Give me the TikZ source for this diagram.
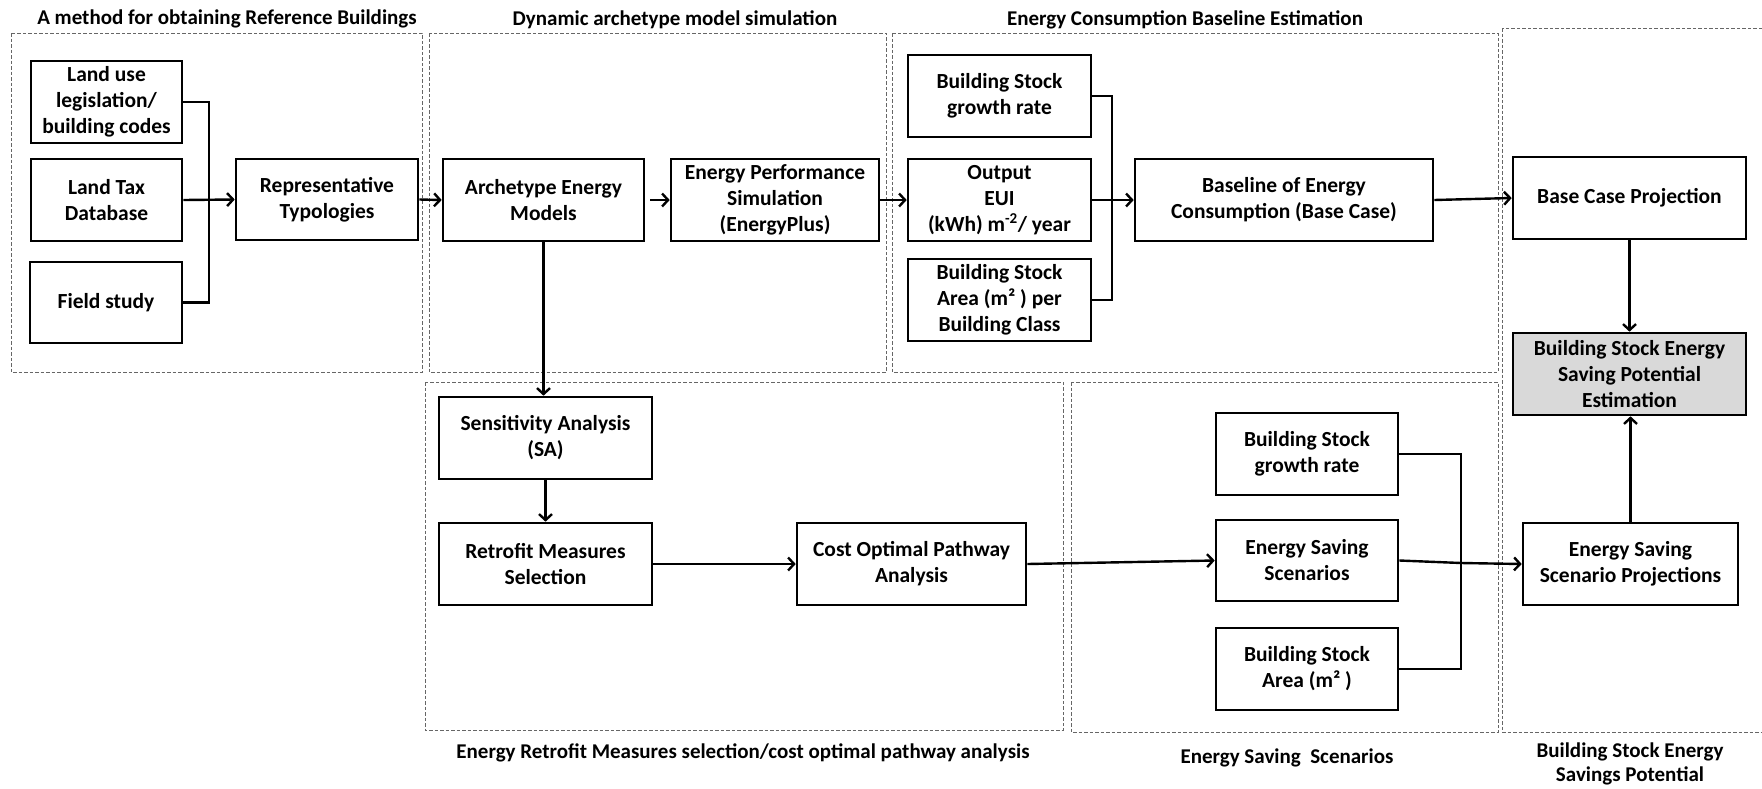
\documentclass[tikz,border=0pt]{standalone}
\usepackage{fontspec}
\setmainfont{Carlito}
\usetikzlibrary{arrows.meta}
\begin{document}
\begin{tikzpicture}[x=1pt,y=-1pt,
  box/.style={draw=black, line width=2.6pt, fill=white, align=center,
    inner sep=0pt, font=\bfseries\fontsize{21.5}{26}\selectfont},
  group/.style={draw=black!60, line width=0.9pt, dash pattern=on 3.5pt off 2pt},
  phasetitle/.style={align=center, inner sep=0pt, font=\bfseries\fontsize{21}{25}\selectfont},
  link/.style={line width=2.4pt},
  arr/.style={line width=2.4pt, -{Straight Barb[length=6pt,width=13pt,line width=2.4pt]}}]
\useasboundingbox (0,0) rectangle (1762,788);

% phase frames
\draw[group] (11,33) rectangle (422,372);
\draw[group] (429,33) rectangle (886,372);
\draw[group] (892,33) rectangle (1498,372);
\draw[group] (425,382) rectangle (1063,730);
\draw[group] (1071,382) rectangle (1498,732);
\draw[group] (1502,28) rectangle (1775,732);

% phase titles
\node[phasetitle] (t1) at (227,19) {A method for obtaining Reference Buildings};
\node[phasetitle] (t2) at (675,20) {Dynamic archetype model simulation};
\node[phasetitle] (t3) at (1185,20) {Energy Consumption Baseline Estimation};
\node[phasetitle] (t4) at (743,753) {Energy Retrofit Measures selection/cost optimal pathway analysis};
\node[phasetitle] (t5) at (1287,758) {Energy Saving\ \ Scenarios};
\node[phasetitle, font=\bfseries\fontsize{21}{24}\selectfont] (t6) at (1630,764) {Building Stock Energy\\Savings Potential};

% reference buildings
\node[box, minimum width=151pt, minimum height=82pt] (landuse) at (106.5,102) {Land use\\legislation/\\building codes};
\node[box, minimum width=151pt, minimum height=82pt] (landtax) at (106.5,200) {Land Tax\\Database};
\node[box, minimum width=152pt, minimum height=81pt] (field) at (106,302.5) {Field study};
\node[box, minimum width=182pt, minimum height=81pt] (rep) at (327,199.5) {Representative\\Typologies};

% archetype simulation
\node[box, minimum width=201pt, minimum height=82pt] (arch) at (543.5,200) {Archetype Energy\\Models};
\node[box, minimum width=208pt, minimum height=82pt] (eps) at (775,200) {Energy Performance\\Simulation\\(EnergyPlus)};

% baseline estimation
\node[box, minimum width=183pt, minimum height=82pt] (bsgrA) at (999.5,96) {Building Stock\\growth rate};
\node[box, minimum width=183pt, minimum height=82pt] (eui) at (999.5,200) {Output\\EUI\\(kWh) m\textsuperscript{-2}/ year};
\node[box, minimum width=183pt, minimum height=82pt] (bsareaA) at (999.5,300) {Building Stock\\Area (m² ) per\\Building Class};
\node[box, minimum width=298pt, minimum height=82pt] (baseline) at (1284,200) {Baseline of Energy\\Consumption (Base Case)};

% savings potential
\node[box, minimum width=233pt, minimum height=82pt] (bcp) at (1629.5,198) {Base Case Projection};
\node[box, fill=black!15, minimum width=233pt, minimum height=82pt] (est) at (1629.5,374) {Building Stock Energy\\Saving Potential\\Estimation};
\node[box, minimum width=215pt, minimum height=82pt] (esp) at (1630.5,564) {Energy Saving\\Scenario Projections};

% retrofit measures
\node[box, minimum width=213pt, minimum height=82pt] (sa) at (545.5,438) {Sensitivity Analysis\\(SA)};
\node[box, minimum width=213pt, minimum height=82pt] (rms) at (545.5,564) {Retrofit Measures\\Selection};
\node[box, minimum width=229pt, minimum height=82pt] (cost) at (911.5,564) {Cost Optimal Pathway\\Analysis};

% saving scenarios
\node[box, minimum width=182pt, minimum height=82pt] (bsgrB) at (1307,454) {Building Stock\\growth rate};
\node[box, minimum width=182pt, minimum height=81pt] (ess) at (1307,560.5) {Energy Saving\\Scenarios};
\node[box, minimum width=182pt, minimum height=82pt] (bsareaB) at (1307,669) {Building Stock\\Area (m² )};

% junction points
\coordinate (jA) at (209,200);
\coordinate (jB) at (1112,200);
\coordinate (jC) at (1461,563);

% connectors
\draw[link] (landuse.east) -| (jA) |- (field.east);
\draw[arr] (landtax.east) -- (rep.west);
\draw[arr] (rep.east) -- (arch.west);
\draw[arr, shorten <=5pt] (arch.east) -- (eps.west);
\draw[arr] (eps.east) -- (eui.west);
\draw[link] (bsgrA.east) -| (jB) |- (bsareaA.east);
\draw[arr] (eui.east) -- (baseline.west);
\draw[arr] (baseline.east) -- (bcp.west);
\draw[arr] (bcp.south) -- (est.north);
\draw[arr] (arch.south) -- (arch.south |- sa.north);
\draw[arr] (sa.south) -- (rms.north);
\draw[arr] (rms.east) -- (rms.east -| cost.west);
\draw[arr] (cost.east) -- (ess.west);
\draw[link] (bsgrB.east) -| (jC) |- (bsareaB.east);
\draw[arr] (ess.east) -- (jC) -- (esp.west);
\draw[arr] (esp.north) -- (esp.north |- est.south);
\end{tikzpicture}
\end{document}
